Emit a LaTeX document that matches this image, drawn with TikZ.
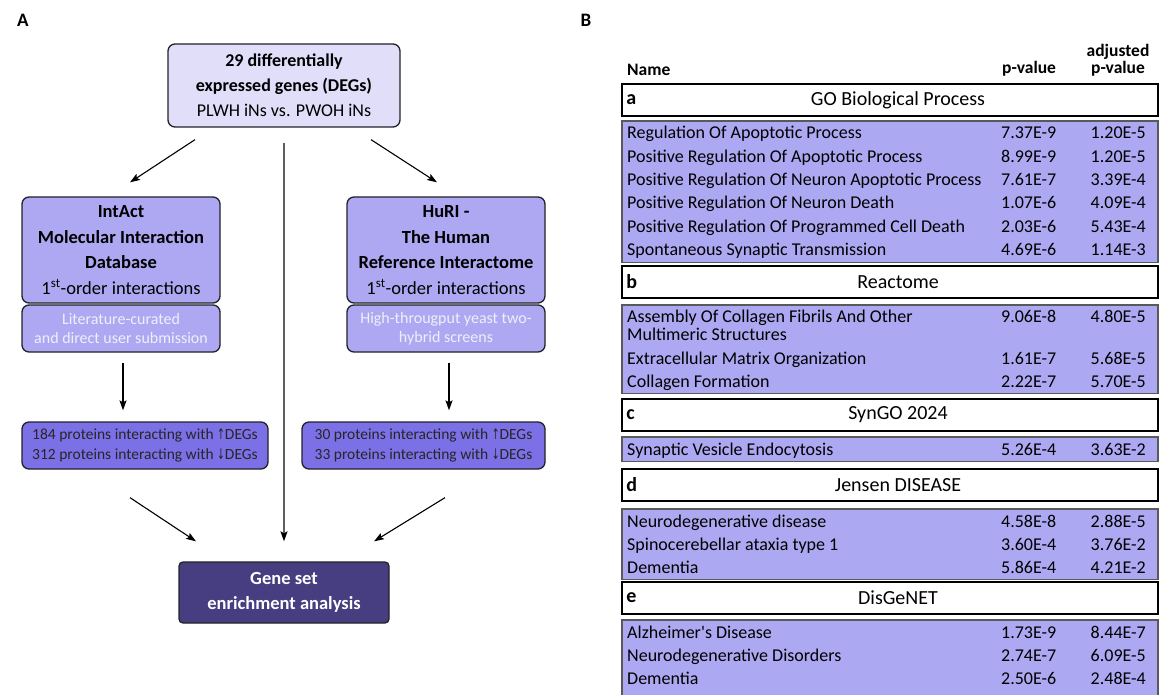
\documentclass[tikz,border=0pt]{standalone}
\usepackage{fontspec}
\setmainfont{Carlito}
\newfontfamily\symfont{DejaVu Sans}
\usepackage{graphicx}
\usepackage{tikz}
\usetikzlibrary{arrows.meta}
\usetikzlibrary{positioning}

\definecolor{topfill}{RGB}{225,222,250}
\definecolor{dbfill}{RGB}{174,168,242}
\definecolor{protfill}{RGB}{124,112,230}
\definecolor{gseafill}{RGB}{70,62,128}
\definecolor{rowfill}{RGB}{173,168,242}
\definecolor{boxline}{RGB}{34,34,40}
\definecolor{subtxt}{RGB}{240,238,252}
\definecolor{midline}{RGB}{95,95,95}

\newcommand{\upar}{{\symfont\scalebox{0.6}[0.95]{↑}}}
\newcommand{\dnar}{{\symfont\scalebox{0.6}[0.95]{↓}}}

\tikzset{
  flowbox/.style={draw=boxline, line width=1.3pt, rounded corners=7pt, align=center, inner sep=0pt},
  panel/.style={font=\fontsize{19}{20}\selectfont\bfseries, inner sep=0pt},
  colhead/.style={font=\fontsize{17.5}{18}\selectfont\bfseries, inner sep=0pt},
  hdbox/.style={draw=black, line width=1.5pt, fill=white, minimum width=536pt, minimum height=32pt, inner sep=0pt},
  hdletter/.style={anchor=west, font=\fontsize{20}{22}\selectfont\bfseries, inner sep=0pt},
  hdtitle/.style={font=\fontsize{20}{22}\selectfont, inner sep=0pt},
  rowbox/.style={draw=black!65, line width=1.1pt, fill=rowfill, minimum width=536pt, inner sep=0pt},
  rowtxt/.style={anchor=base west, font=\fontsize{18}{20}\selectfont, inner sep=0pt}
}

\begin{document}
\begin{tikzpicture}[x=1pt,y=-1pt]
	\useasboundingbox (0,0) rectangle (1160,695);

	\node[panel] (pa) at (23,20) {A};
	\node[panel] (pb) at (586,20) {B};

	% workflow
	\begin{scope}[every node/.style={flowbox}]
		\node[fill=topfill, minimum width=232pt, minimum height=83pt, font=\fontsize{18}{25}\selectfont] (degs) at (284,85.5)
			{\textbf{29 differentially}\\\textbf{expressed genes (DEGs)}\\PLWH iNs vs. PWOH iNs};
		\node[fill=dbfill, minimum width=198pt, minimum height=106pt, font=\fontsize{18.5}{25.5}\selectfont] (intact) at (121,250)
			{\textbf{IntAct}\\\textbf{Molecular Interaction}\\\textbf{Database}\\1\textsuperscript{st}-order interactions};
		\node[fill=dbfill, minimum width=198pt, minimum height=47pt, text=subtxt, font=\fontsize{16}{19}\selectfont] (intactsrc) at (121,328.5)
			{Literature-curated\\and direct user submission};
		\node[fill=dbfill, minimum width=198pt, minimum height=106pt, font=\fontsize{18.5}{25.5}\selectfont] (huri) at (446,250)
			{\textbf{HuRI -}\\\textbf{The Human}\\\textbf{Reference Interactome}\\1\textsuperscript{st}-order interactions};
		\node[fill=dbfill, minimum width=198pt, minimum height=47pt, text=subtxt, font=\fontsize{16}{19}\selectfont] (hurisrc) at (446,328.5)
			{High-througput yeast two-\\hybrid screens};
		\node[fill=protfill, minimum width=246pt, minimum height=47pt, text=black!85, font=\fontsize{15.5}{20}\selectfont] (intactprot) at (145,445.5)
			{184 proteins interacting with \upar DEGs\\312 proteins interacting with \dnar DEGs};
		\node[fill=protfill, minimum width=243pt, minimum height=47pt, text=black!85, font=\fontsize{15.5}{20}\selectfont] (huriprot) at (423.5,445.5)
			{30 proteins interacting with \upar DEGs\\33 proteins interacting with \dnar DEGs};
		\node[fill=gseafill, rounded corners=4pt, minimum width=210pt, minimum height=61pt, text=white, font=\fontsize{18.5}{25}\selectfont\bfseries] (gsea) at (284,592.5)
			{Gene set\\enrichment analysis};
	\end{scope}

	\begin{scope}[>={Stealth[black, length=10pt, width=7pt, inset=2pt]},
	              every edge/.style={draw=black, line width=1.1pt}]
		\path ([shift={(-89,12)}]degs.south) edge[->] ([shift={(9,-14)}]intact.north);
		\path ([shift={(87,12)}]degs.south) edge[->] ([shift={(-9,-14)}]huri.north);
		\path ([shift={(0,15)}]degs.south) edge[->, draw=midline, line width=1.5pt] ([shift={(0,-20)}]gsea.north);
		\path ([shift={(2,10)}]intactsrc.south) edge[->] ([shift={(-22,-11)}]intactprot.north);
		\path ([shift={(3,10)}]hurisrc.south) edge[->] ([shift={(25.5,-11)}]huriprot.north);
		\path ([shift={(-15,28)}]intactprot.south) edge[->] ([shift={(-88,-20)}]gsea.north);
		\path ([shift={(21.5,28)}]huriprot.south) edge[->] ([shift={(90,-20)}]gsea.north);
	\end{scope}

	% enrichment table
	\node[colhead, anchor=base west] (hname) at (627,76) {Name};
	\node[colhead, anchor=base west] (hpv) at (1002,74) {p-value};
	\node[colhead, anchor=base] (hadj) at (1118,57) {adjusted};
	\node[colhead, anchor=base] (hadjpv) at (1118,74) {p-value};

	% a
	\node[hdbox] (hda) at (890,100) {};
	\node[hdletter] (la) at ([xshift=5pt]hda.west) {a};
	\node[hdtitle] (ta) at (898,100) {GO Biological Process};
	\node[rowbox, minimum height=141.5pt] (rwa) at (890,191.75) {};
	\foreach \nm/\pv/\adj [count=\i from 0] in {
		Regulation Of Apoptotic Process/7.37E-9/1.20E-5,
		Positive Regulation Of Apoptotic Process/8.99E-9/1.20E-5,
		Positive Regulation Of Neuron Apoptotic Process/7.61E-7/3.39E-4,
		Positive Regulation Of Neuron Death/1.07E-6/4.09E-4,
		Positive Regulation Of Programmed Cell Death/2.03E-6/5.43E-4,
		Spontaneous Synaptic Transmission/4.69E-6/1.14E-3}{
		\node[rowtxt] (a\i) at (627,139+23.3*\i) {\nm};
		\node[rowtxt] (ap\i) at (1001,139+23.3*\i) {\pv};
		\node[rowtxt, anchor=base east] (aq\i) at (1146,139+23.3*\i) {\adj};
	}

	% b
	\node[hdbox] (hdb) at (890,282) {};
	\node[hdletter] (lb) at ([xshift=5pt]hdb.west) {b};
	\node[hdtitle] (tb) at (898,282) {Reactome};
	\node[rowbox, minimum height=88.5pt] (rwb) at (890,349.25) {};
	\node[rowtxt] (b0) at (627,323) {Assembly Of Collagen Fibrils And Other};
	\node[rowtxt] (b0x) at (627,341) {Multimeric Structures};
	\node[rowtxt] (bp0) at (1001,323) {9.06E-8};
	\node[rowtxt, anchor=base east] (bq0) at (1146,323) {4.80E-5};
	\foreach \nm/\pv/\adj [count=\i] in {
		Extracellular Matrix Organization/1.61E-7/5.68E-5,
		Collagen Formation/2.22E-7/5.70E-5}{
		\node[rowtxt] (b\i) at (627,340.7+23.3*\i) {\nm};
		\node[rowtxt] (bp\i) at (1001,340.7+23.3*\i) {\pv};
		\node[rowtxt, anchor=base east] (bq\i) at (1146,340.7+23.3*\i) {\adj};
	}

	% c
	\node[hdbox] (hdc) at (890,415) {};
	\node[hdletter] (lc) at ([xshift=5pt]hdc.west) {c};
	\node[hdtitle] (tc) at (898,415) {SynGO 2024};
	\node[rowbox, minimum height=24.5pt] (rwc) at (890,449.25) {};
	\node[rowtxt] (c0) at (627,455) {Synaptic Vesicle Endocytosis};
	\node[rowtxt] (cp0) at (1001,455) {5.26E-4};
	\node[rowtxt, anchor=base east] (cq0) at (1146,455) {3.63E-2};

	% d
	\node[hdbox] (hdd) at (890,485) {};
	\node[hdletter] (ld) at ([xshift=5pt]hdd.west) {d};
	\node[hdtitle] (td) at (898,485) {Jensen DISEASE};
	\node[rowbox, minimum height=70.5pt] (rwd) at (890,544.25) {};
	\foreach \nm/\pv/\adj [count=\i from 0] in {
		Neurodegenerative disease/4.58E-8/2.88E-5,
		Spinocerebellar ataxia type 1/3.60E-4/3.76E-2,
		Dementia/5.86E-4/4.21E-2}{
		\node[rowtxt] (d\i) at (627,527+23.3*\i) {\nm};
		\node[rowtxt] (dp\i) at (1001,527+23.3*\i) {\pv};
		\node[rowtxt, anchor=base east] (dq\i) at (1146,527+23.3*\i) {\adj};
	}

	% e
	\node[hdbox] (hde) at (890,598) {};
	\node[hdletter] (le) at ([xshift=5pt]hde.west) {e};
	\node[hdtitle] (te) at (898,598) {DisGeNET};
	\node[rowbox, minimum height=80pt] (rwe) at (890,660) {};
	\foreach \nm/\pv/\adj [count=\i from 0] in {
		Alzheimer\textquotesingle s Disease/1.73E-9/8.44E-7,
		Neurodegenerative Disorders/2.74E-7/6.09E-5,
		Dementia/2.50E-6/2.48E-4}{
		\node[rowtxt] (e\i) at (627,638+23.3*\i) {\nm};
		\node[rowtxt] (ep\i) at (1001,638+23.3*\i) {\pv};
		\node[rowtxt, anchor=base east] (eq\i) at (1146,638+23.3*\i) {\adj};
	}
\end{tikzpicture}
\end{document}
